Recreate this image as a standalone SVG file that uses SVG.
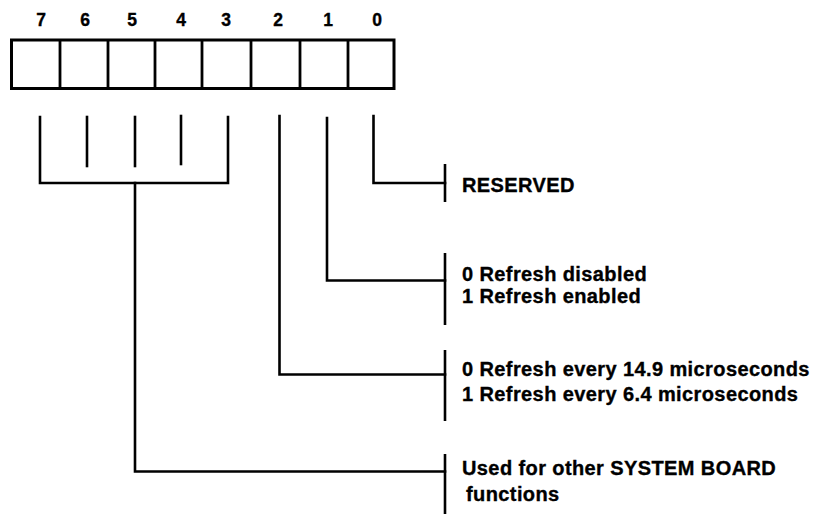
<svg xmlns="http://www.w3.org/2000/svg" width="826" height="516" viewBox="0 0 826 516">
<style>
  text { font-family: "Liberation Sans", Arial, Helvetica, sans-serif; font-weight: bold; fill: #000; stroke: #000; stroke-width: 0.35; }
  .bitnum { font-size: 17.5px; text-anchor: middle; }
  .desc { font-size: 20px; letter-spacing: 0.4px; }
  .box { fill: #fff; stroke: #000; stroke-width: 3; }
  .cell { stroke: #000; stroke-width: 2.8; fill: none; }
  .wire { fill: none; stroke: #000; stroke-width: 2.6; stroke-linecap: square; stroke-linejoin: miter; }
  .bar { stroke: #000; stroke-width: 2.6; }
</style>
<rect width="826" height="516" fill="#fff"/>

<g id="register">
  <rect class="box" x="11.5" y="40" width="382.5" height="48.5"/>
  <line class="cell" x1="60" y1="40" x2="60" y2="88.5"/>
  <line class="cell" x1="108" y1="40" x2="108" y2="88.5"/>
  <line class="cell" x1="155" y1="40" x2="155" y2="88.5"/>
  <line class="cell" x1="202" y1="40" x2="202" y2="88.5"/>
  <line class="cell" x1="251" y1="40" x2="251" y2="88.5"/>
  <line class="cell" x1="300" y1="40" x2="300" y2="88.5"/>
  <line class="cell" x1="348" y1="40" x2="348" y2="88.5"/>
  <text class="bitnum" x="41" y="25.5">7</text>
  <text class="bitnum" x="85" y="25.5">6</text>
  <text class="bitnum" x="132" y="25.5">5</text>
  <text class="bitnum" x="181" y="25.5">4</text>
  <text class="bitnum" x="226" y="25.5">3</text>
  <text class="bitnum" x="278" y="25.5">2</text>
  <text class="bitnum" x="328" y="25.5">1</text>
  <text class="bitnum" x="377" y="25.5">0</text>
</g>

<g id="connectors">
  <!-- bits 7..3 bracket -->
  <polyline class="wire" points="40,117 40,183 228,183 228,117"/>
  <line class="wire" x1="87" y1="117" x2="87" y2="166"/>
  <line class="wire" x1="135" y1="117" x2="135" y2="166"/>
  <line class="wire" x1="181" y1="116" x2="181" y2="164"/>
  <polyline class="wire" points="135,183 135,471.5 445,471.5"/>
  <!-- bit 2 -->
  <polyline class="wire" points="279.5,116 279.5,374.5 445,374.5"/>
  <!-- bit 1 -->
  <polyline class="wire" points="327,118 327,280.5 445,280.5"/>
  <!-- bit 0 -->
  <polyline class="wire" points="373.5,116 373.5,183 445,183"/>
</g>

<g id="desc-bit0">
  <line class="bar" x1="445" y1="164" x2="445" y2="202"/>
  <text class="desc" x="462" y="192">RESERVED</text>
</g>

<g id="desc-bit1">
  <line class="bar" x1="445" y1="253" x2="445" y2="325"/>
  <text class="desc" x="462" y="280.5">0 Refresh disabled</text>
  <text class="desc" x="462" y="303">1 Refresh enabled</text>
</g>

<g id="desc-bit2">
  <line class="bar" x1="445" y1="350" x2="445" y2="421"/>
  <text class="desc" x="462" y="375.5">0 Refresh every 14.9 microseconds</text>
  <text class="desc" x="462" y="400.5">1 Refresh every 6.4 microseconds</text>
</g>

<g id="desc-bits7-3">
  <line class="bar" x1="445" y1="454" x2="445" y2="514"/>
  <text class="desc" x="462" y="475">Used for other SYSTEM BOARD</text>
  <text class="desc" x="466" y="501">functions</text>
</g>
</svg>
